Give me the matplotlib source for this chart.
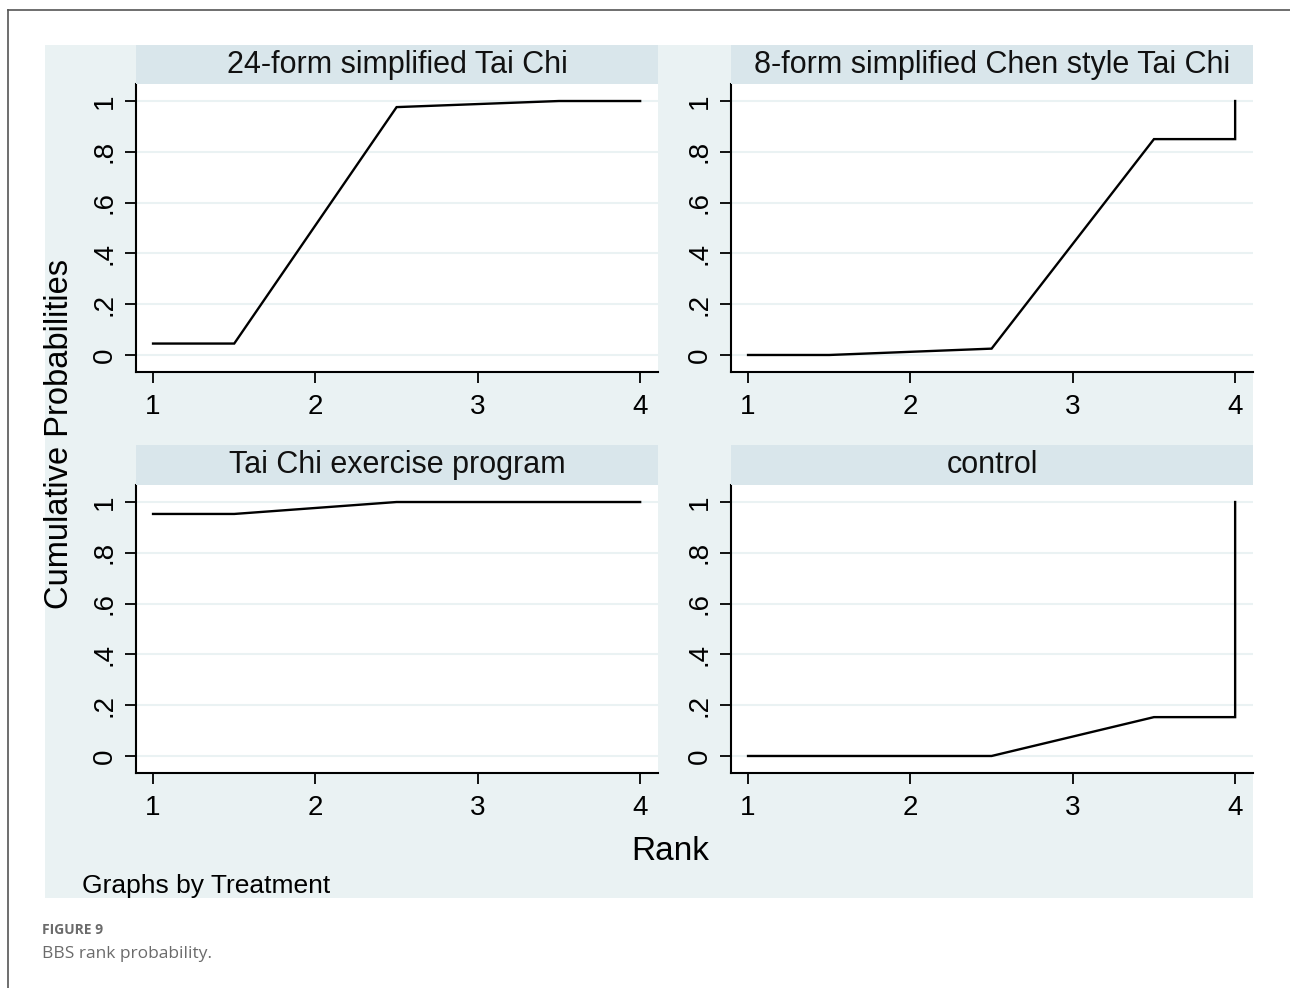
import numpy as np
from matplotlib import pyplot as plt
from matplotlib.patches import Rectangle
from matplotlib.lines import Line2D

plt.rcParams['font.family'] = ['Liberation Sans', 'DejaVu Sans']

titles = ["24-form simplified Tai Chi", "8-form simplified Chen style Tai Chi",
          "Tai Chi exercise program", "control"]
rank_24 = [1, 1.5, 2.5, 3.5, 4]
prob_24 = [0.045, 0.045, 0.976, 1.0, 1.0]
rank_8 = [1, 1.5, 2.5, 3.5, 4, 4]
prob_8 = [0.0, 0.0, 0.025, 0.85, 0.85, 1.0]
rank_ex = [1, 1.5, 2.5, 3.5, 4]
prob_ex = [0.953, 0.953, 1.0, 1.0, 1.0]
rank_ctl = [1, 1.5, 2.5, 3.5, 4, 4]
prob_ctl = [0.0, 0.0, 0.0, 0.153, 0.153, 1.0]
series = [(rank_24, prob_24), (rank_8, prob_8), (rank_ex, prob_ex), (rank_ctl, prob_ctl)]
xticks = [1, 2, 3, 4]
yticks = [0, 0.2, 0.4, 0.6, 0.8, 1.0]
ylabels = ["0", ".2", ".4", ".6", ".8", "1"]

W, H = 1290, 988
fig = plt.figure(figsize=(W / 100, H / 100), dpi=100)
fig.patch.set_facecolor("white")

def fx(px):
    return px / W

def fy(py):
    return 1 - py / H

# page frame lines
fig.add_artist(Line2D([fx(7.5), fx(7.5)], [fy(10), 0], color="#555555", lw=1.2))
fig.add_artist(Line2D([fx(7.5), 1], [fy(10), fy(10)], color="#555555", lw=1.2))

bg = "#eaf2f3"
strip = "#d9e6eb"
fig.add_artist(Rectangle((fx(45), fy(898)), fx(1253 - 45), (898 - 45) / H,
                         facecolor=bg, edgecolor="none", zorder=0))

# panel boxes: (left, right, strip_top, plot_top, plot_bottom)
panels = [(136, 658, 45, 84, 372), (731, 1253, 45, 84, 372),
          (136, 658, 445, 485, 773), (731, 1253, 445, 485, 773)]

for (x0, x1, st, pt, pb), title, (xs, ys) in zip(panels, titles, series):
    fig.add_artist(Rectangle((fx(x0), fy(pt)), fx(x1 - x0), (pt - st) / H,
                             facecolor=strip, edgecolor="none", zorder=1))
    fig.text(fx((x0 + x1) / 2), fy((st + pt) / 2), title, ha="center", va="center",
             fontsize=22, color="#111111")
    ax = fig.add_axes([fx(x0), fy(pb), fx(x1 - x0), (pb - pt) / H])
    ax.set_facecolor("white")
    ax.plot(xs, ys, color="black", lw=1.7, solid_joinstyle="miter")
    ax.set_xlim(0.895, 4.11)
    ax.set_ylim(-0.067, 1.067)
    ax.set_xticks(xticks)
    ax.set_yticks(yticks)
    ax.set_yticklabels(ylabels, rotation=90, va="center")
    ax.grid(axis="y", color=bg, lw=1.5)
    ax.set_axisbelow(True)
    for s in ["top", "right"]:
        ax.spines[s].set_visible(False)
    for s in ["left", "bottom"]:
        ax.spines[s].set_linewidth(1.5)
    ax.tick_params(direction="out", length=8, width=1.3, labelsize=20,
                   colors="black")
    ax.tick_params(axis="x", pad=8)
    ax.tick_params(axis="y", pad=5)

fig.text(fx(670), fy(851), "Rank", ha="center", va="center", fontsize=24)
fig.text(fx(60), fy(434), "Cumulative Probabilities", ha="center", va="center",
         rotation=90, fontsize=23.5)
fig.text(fx(82), fy(886), "Graphs by Treatment", ha="left", va="center", fontsize=19)
fig.text(fx(42), fy(930), "FIGURE 9", ha="left", va="center", fontsize=10,
         color="#6b6b6b", fontweight="bold", family=["Open Sans", "DejaVu Sans"])
fig.text(fx(42), fy(954), "BBS rank probability.", ha="left", va="center", fontsize=12.5,
         color="#6b6b6b", family=["Open Sans", "DejaVu Sans"])

fig.savefig("out.png", dpi=100)
